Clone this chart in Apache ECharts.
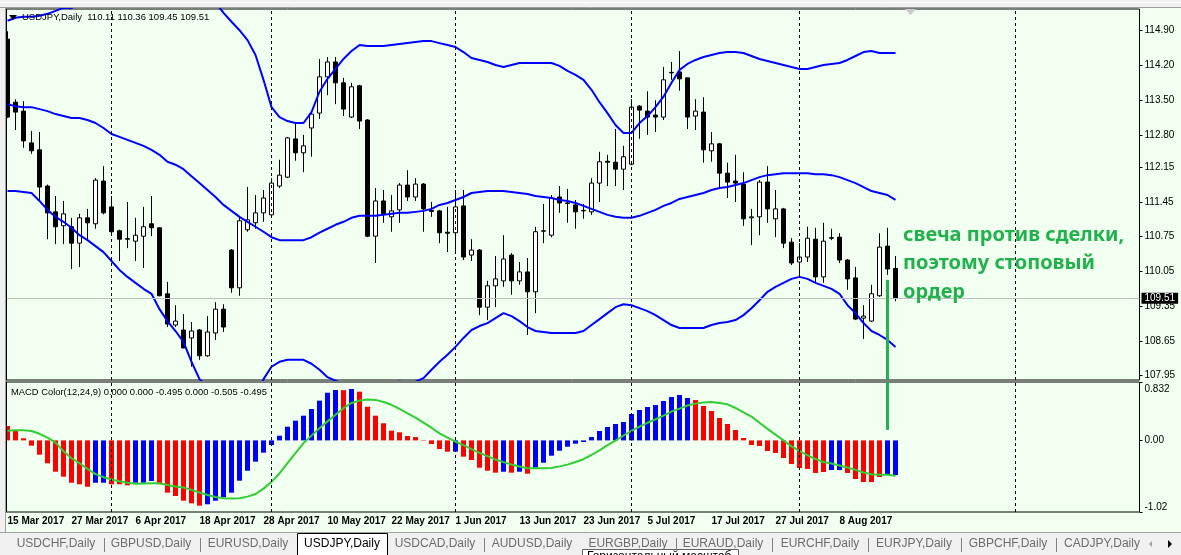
<!DOCTYPE html>
<html><head><meta charset="utf-8">
<script src="https://cdn.jsdelivr.net/npm/echarts@6/dist/echarts.min.js"></script>
<style>html,body{margin:0;padding:0;background:#F0FFF0;overflow:hidden}#c{width:1181px;height:555px}</style>
</head><body><div id="c"></div>
<script>
// ---------- DATA ----------
const symbolTitle = 'USDJPY,Daily';
const lastOHLC = '110.11 110.36 109.45 109.51';
const macdTitle = 'MACD Color(12,24,9) 0.000 0.000 -0.495 0.000 -0.505 -0.495';
const totalSlots = 142;           // bars + empty future space
const separatorIdx = [13, 33, 56, 78, 99, 126];
const bidPrice = 109.51;

const opens = [114.73,113.46,113.28,112.64,112.50,111.77,111.25,110.97,110.95,110.62,
111.13,111.01,111.87,111.35,110.87,110.71,110.66,110.76,111.01,110.93,
109.60,108.97,108.87,108.71,108.87,108.35,108.81,109.29,110.48,109.72,
110.89,111.03,111.23,111.19,111.77,111.95,112.72,112.44,112.94,113.24,
113.97,114.27,113.85,113.16,113.79,113.10,110.76,111.47,111.15,111.29,
111.79,111.55,111.81,111.28,111.27,110.84,110.83,111.37,110.38,110.48,
109.33,109.76,109.86,110.38,109.86,110.04,109.64,110.86,110.78,111.55,
111.43,111.39,111.27,111.25,111.83,112.27,112.25,112.11,112.21,113.38,
113.28,113.20,113.16,114.05,114.07,113.95,113.18,113.26,112.48,112.62,
112.03,111.87,111.81,111.13,111.15,111.85,111.11,111.31,110.64,110.24,
110.34,110.70,109.94,110.73,110.74,110.28,109.92,109.11,109.05,109.56,
110.56,110.11];
const closes = [113.16,113.26,112.68,112.48,111.75,111.23,110.95,111.21,110.62,111.13,
111.03,111.89,111.23,110.85,110.70,110.70,110.78,110.95,110.93,109.56,
108.99,109.05,108.51,108.85,108.35,108.83,109.29,108.93,109.72,111.07,
111.09,111.23,111.53,111.83,111.99,112.74,112.44,112.58,113.22,113.97,
114.27,113.85,113.32,113.77,113.08,110.76,111.47,111.21,111.27,111.79,
111.55,111.81,111.31,111.26,110.83,110.82,111.35,110.34,110.48,109.33,
109.76,109.90,110.30,109.86,110.04,109.64,110.85,110.87,111.53,111.43,
111.42,111.25,111.28,111.83,112.26,112.25,112.11,112.36,113.36,113.30,
113.16,113.16,113.91,114.06,113.93,113.16,113.28,112.50,112.62,112.03,
111.85,111.83,111.11,111.15,111.85,111.31,111.31,110.62,110.22,110.34,
110.72,109.94,110.66,110.72,110.28,109.90,109.09,109.15,109.60,110.54,
110.10,109.51];
const lows = [113.14,112.90,112.54,112.42,111.49,110.70,110.60,110.60,110.10,110.14,
110.68,110.91,111.20,110.80,110.26,110.52,110.26,110.12,110.76,109.55,
108.93,108.93,108.50,108.13,108.27,108.33,108.67,108.83,109.62,109.56,
110.85,110.91,111.05,111.17,111.73,111.93,112.28,112.05,112.36,113.12,
113.60,113.42,113.18,113.14,112.92,110.74,110.22,111.03,110.85,111.03,
111.47,111.47,110.85,111.15,110.62,110.44,110.44,110.28,110.26,109.17,
109.07,109.33,109.74,109.58,109.78,108.77,109.21,110.62,110.74,111.23,
111.03,110.91,111.11,111.19,111.45,111.77,111.77,111.69,112.19,112.72,
112.80,112.86,113.10,113.91,113.69,112.92,112.90,112.24,112.26,111.75,
111.53,111.45,110.97,110.58,110.78,111.03,110.74,110.52,110.18,109.94,
110.24,109.82,109.82,110.68,110.22,109.68,109.07,108.69,109.03,109.54,
109.98,109.45];
const highs = [114.89,113.52,113.48,112.88,112.86,111.80,111.57,111.47,111.13,111.21,
111.31,111.93,112.17,111.57,110.89,111.45,111.13,111.35,111.57,110.94,
109.84,109.37,109.19,109.03,108.89,109.15,109.43,109.39,110.50,111.15,
111.75,111.59,111.69,111.93,112.30,112.76,113.04,112.80,113.24,114.33,
114.37,114.37,113.95,113.85,113.81,113.12,111.73,111.69,111.59,111.83,
112.09,111.93,111.83,111.45,111.29,111.35,111.69,111.69,110.70,110.50,
109.86,110.36,110.78,110.42,110.24,110.32,110.95,111.41,111.59,111.77,
111.71,111.49,111.41,111.93,112.46,112.40,112.92,112.58,113.52,113.40,
113.68,113.50,114.17,114.27,114.49,113.95,113.52,113.56,112.86,112.64,
112.24,112.40,112.05,111.31,111.89,112.17,111.69,111.33,110.72,110.62,
110.95,110.93,111.03,110.91,110.82,110.30,110.14,109.37,109.78,110.82,
110.93,110.36];

const bbUpper = [115.10,115.16,115.18,115.18,115.20,115.24,115.30,115.36,115.35,115.50,
115.52,115.52,115.44,115.38,115.44,115.46,115.46,115.46,115.40,115.51,
115.47,115.55,115.59,115.71,115.78,115.65,115.47,115.26,115.08,114.91,
114.71,114.41,113.91,113.36,113.16,113.08,113.04,113.04,113.26,113.67,
113.93,114.13,114.33,114.49,114.61,114.59,114.59,114.59,114.61,114.63,
114.65,114.67,114.69,114.69,114.65,114.61,114.57,114.47,114.35,114.31,
114.27,114.21,114.17,114.21,114.25,114.25,114.25,114.25,114.25,114.19,
114.09,114.01,113.91,113.71,113.46,113.24,113.00,112.84,112.84,113.04,
113.18,113.36,113.57,113.85,114.11,114.23,114.31,114.37,114.41,114.45,
114.47,114.47,114.45,114.39,114.33,114.29,114.25,114.21,114.17,114.13,
114.13,114.17,114.21,114.23,114.25,114.31,114.39,114.47,114.49,114.45,
114.45,114.45];
const bbMiddle = [113.42,113.38,113.36,113.36,113.32,113.28,113.22,113.18,113.14,113.14,
113.10,113.04,112.94,112.82,112.76,112.70,112.64,112.58,112.50,112.40,
112.26,112.20,112.11,111.97,111.83,111.69,111.55,111.39,111.27,111.15,
111.05,110.95,110.85,110.74,110.68,110.68,110.68,110.68,110.74,110.83,
110.91,110.99,111.05,111.13,111.17,111.17,111.17,111.19,111.21,111.23,
111.23,111.25,111.27,111.31,111.39,111.43,111.49,111.55,111.63,111.65,
111.67,111.67,111.67,111.65,111.63,111.61,111.57,111.55,111.53,111.49,
111.47,111.43,111.37,111.31,111.25,111.19,111.15,111.13,111.13,111.17,
111.23,111.29,111.37,111.43,111.51,111.55,111.59,111.63,111.69,111.73,
111.75,111.79,111.83,111.89,111.95,111.99,112.01,112.03,112.03,112.03,
112.03,112.01,112.01,111.99,111.95,111.89,111.83,111.75,111.67,111.63,
111.59,111.49];
const bbLower = [111.67,111.67,111.65,111.63,111.47,111.29,111.15,111.05,110.93,110.78,
110.68,110.56,110.44,110.26,110.08,109.94,109.82,109.70,109.60,109.29,
109.05,108.85,108.63,108.23,107.88,107.73,107.63,107.52,107.46,107.39,
107.39,107.49,107.88,108.13,108.23,108.27,108.27,108.27,108.19,108.07,
107.92,107.85,107.77,107.77,107.73,107.75,107.75,107.79,107.81,107.83,
107.81,107.83,107.90,108.07,108.23,108.37,108.53,108.71,108.87,108.95,
109.01,109.11,109.21,109.15,109.05,108.93,108.85,108.83,108.81,108.81,
108.81,108.81,108.85,108.97,109.09,109.21,109.33,109.39,109.37,109.31,
109.25,109.17,109.07,108.97,108.91,108.91,108.91,108.91,108.97,109.01,
109.03,109.07,109.17,109.31,109.47,109.64,109.74,109.82,109.90,109.94,
109.90,109.82,109.76,109.70,109.60,109.37,109.21,109.01,108.85,108.77,
108.67,108.53];

const macdHist = [0.205,0.148,0.030,-0.075,-0.204,-0.326,-0.446,-0.517,-0.603,-0.625,
-0.660,-0.603,-0.603,-0.625,-0.625,-0.640,-0.603,-0.603,-0.578,-0.625,
-0.745,-0.792,-0.859,-0.896,-0.930,-0.910,-0.859,-0.811,-0.745,-0.574,
-0.432,-0.303,-0.175,-0.066,0.067,0.195,0.281,0.352,0.447,0.566,
0.679,0.718,0.716,0.732,0.694,0.480,0.352,0.244,0.138,0.115,
0.063,0.048,0.006,-0.051,-0.123,-0.161,-0.160,-0.232,-0.279,-0.389,
-0.432,-0.460,-0.446,-0.460,-0.446,-0.474,-0.389,-0.318,-0.218,-0.147,
-0.090,-0.047,-0.023,0.048,0.134,0.191,0.234,0.262,0.376,0.433,
0.476,0.504,0.561,0.618,0.647,0.604,0.575,0.490,0.419,0.319,
0.234,0.148,0.034,-0.066,-0.080,-0.151,-0.179,-0.251,-0.336,-0.393,
-0.407,-0.464,-0.450,-0.422,-0.423,-0.464,-0.550,-0.593,-0.594,-0.521,
-0.493,-0.495];
// r = falling (red), b = rising (blue), as coloured in the picture
const macdColorFlags = 'rrrrrrrrrrrbbrrrbbbrrrrrrbbbbbbbbbbbbbbbbbrbrrrrrrrrrrrrbrrrrrbrbrbbbbbbbbbbbbbbbbbbbbrrrrrrrrrrrrrrrrrbbrrrrrbbr';
const macdSignal = [0.138,0.145,0.144,0.134,0.094,0.040,-0.031,-0.155,-0.254,-0.325,
-0.405,-0.481,-0.524,-0.558,-0.581,-0.603,-0.617,-0.614,-0.611,-0.611,
-0.634,-0.658,-0.670,-0.705,-0.742,-0.778,-0.806,-0.823,-0.829,-0.825,
-0.801,-0.764,-0.687,-0.591,-0.471,-0.325,-0.181,-0.038,0.068,0.172,
0.271,0.365,0.459,0.534,0.567,0.584,0.577,0.547,0.507,0.449,
0.386,0.325,0.254,0.181,0.100,0.041,-0.019,-0.067,-0.124,-0.177,
-0.225,-0.273,-0.309,-0.343,-0.372,-0.397,-0.397,-0.397,-0.393,-0.370,
-0.345,-0.308,-0.268,-0.208,-0.141,-0.068,-0.003,0.070,0.137,0.197,
0.251,0.301,0.353,0.410,0.452,0.497,0.524,0.540,0.546,0.534,
0.514,0.462,0.400,0.339,0.252,0.164,0.083,0.001,-0.085,-0.150,
-0.212,-0.265,-0.308,-0.330,-0.358,-0.387,-0.420,-0.457,-0.481,-0.489,
-0.489,-0.505];

const priceTicks = [114.90,114.20,113.50,112.80,112.15,111.45,110.75,110.05,109.35,108.65,107.95];
const macdTicks = [0.832, 0, -1.02];
const macdTickText = ['0.832','0.00','-1.02'];
const noteLines = ['свеча против сделки,', 'поэтому стоповый', 'ордер'];
const stopBarIdx = 110, stopLinePriceTop = 109.88, stopLineMacdBottom = 0.15;
const tabNames = ['USDCHF,Daily','GBPUSD,Daily','EURUSD,Daily','USDJPY,Daily','USDCAD,Daily','AUDUSD,Daily','EURGBP,Daily','EURAUD,Daily','EURCHF,Daily','EURJPY,Daily','GBPCHF,Daily','CADJPY,Daily'];
const activeTab = 'USDJPY,Daily';
const tooltipText = 'Горизонтальный масштаб';

// ---------- categories (weekday dates) ----------
const monthNames = ['Jan','Feb','Mar','Apr','May','Jun','Jul','Aug','Sep','Oct','Nov','Dec'];
const cats = [];
(function(){ let t = Date.UTC(2017,2,15); while (cats.length < totalSlots) { const d = new Date(t); const wd = d.getUTCDay(); if (wd !== 0 && wd !== 6) cats.push(d.getUTCDate()+' '+monthNames[d.getUTCMonth()]+' '+d.getUTCFullYear()); t += 86400000; } })();
const nBars = opens.length;

// ---------- layout ----------
const GL = 3.5, GW = 8 * totalSlots;       // 8px per bar
const MAIN_TOP = 9, MAIN_H = 371;
const SUB_TOP = 382, SUB_H = 130;
const PMAX = 115.337, PMIN = 107.863;
const FONT = 'Liberation Sans';
const BG = '#F0FFF0';

const ohlc = opens.map((o,i)=>[o, closes[i], lows[i], highs[i]]);
const histData = macdHist.map((v,i)=>({value:v, itemStyle:{color: macdColorFlags[i]==='b' ? '#0000FF' : '#FF0000'}}));

const sepLines = separatorIdx.map(i=>({xAxis: cats[i]}));
const sepStyle = {color:'#000', type:[3,3], width:1};

const tabCenters = [56,151,248,342,435,532,628,723,820,914,1008,1102];
const tabSeps = [104,200,484,676,772,868,961,1056];

const graphics = [];
// window chrome
graphics.push({type:'rect', z:100, silent:true, shape:{x:0,y:0,width:1181,height:8}, style:{fill:'#F0F0F0'}});
graphics.push({type:'line', z:101, silent:true, shape:{x1:0,y1:2.5,x2:1181,y2:2.5}, style:{stroke:'#FFFFFF',lineWidth:1}});
graphics.push({type:'line', z:101, silent:true, shape:{x1:0,y1:7.5,x2:1181,y2:7.5}, style:{stroke:'#A0A0A0',lineWidth:1}});
graphics.push({type:'rect', z:100, silent:true, shape:{x:0,y:0,width:6,height:533}, style:{fill:'#F0F0F0'}});
graphics.push({type:'line', z:101, silent:true, shape:{x1:5.5,y1:8,x2:5.5,y2:533}, style:{stroke:'#A0A0A0',lineWidth:1}});
graphics.push({type:'line', z:101, silent:true, shape:{x1:6.5,y1:9,x2:6.5,y2:380}, style:{stroke:'#000',lineWidth:1}});
graphics.push({type:'line', z:101, silent:true, shape:{x1:6.5,y1:382,x2:6.5,y2:512}, style:{stroke:'#000',lineWidth:1}});
// chart-shift marker
graphics.push({type:'polygon', z:101, silent:true, shape:{points:[[905,9],[916,9],[910.5,15]]}, style:{fill:'#C8C8C8'}});
// header
graphics.push({type:'polygon', z:101, silent:true, shape:{points:[[9,15],[17,15],[13,20]]}, style:{fill:'#000'}});
graphics.push({type:'text', z:102, silent:true, x:22, y:17, style:{text:symbolTitle+'  '+lastOHLC, font:'9.5px '+FONT, fill:'#000', verticalAlign:'middle'}});
graphics.push({type:'text', z:102, silent:true, x:11, y:392, style:{text:macdTitle, font:'9.4px '+FONT, fill:'#000', verticalAlign:'middle'}});
// annotation
noteLines.forEach((t,k)=>graphics.push({type:'text', z:102, silent:true, x:903, y:235+k*28.5, style:{text:t, font:'bold 20px "Noto Sans"', fill:'#22B14C', verticalAlign:'middle'}}));
// tab bar
graphics.push({type:'rect', z:100, silent:true, shape:{x:0,y:533,width:1181,height:22}, style:{fill:'#F0F0F0'}});
graphics.push({type:'line', z:101, silent:true, shape:{x1:0,y1:532.5,x2:1181,y2:532.5}, style:{stroke:'#A0A0A0',lineWidth:1}});
tabSeps.forEach(x=>graphics.push({type:'line', z:101, silent:true, shape:{x1:x+0.5,y1:538,x2:x+0.5,y2:552}, style:{stroke:'#808080',lineWidth:1}}));
graphics.push({type:'rect', z:101, silent:true, shape:{x:297.5,y:533.5,width:90,height:22}, style:{fill:'#FFFFFF', stroke:'#000', lineWidth:1}});
tabNames.forEach((t,k)=>graphics.push({type:'text', z:102, silent:true, x:tabCenters[k], y:544, style:{text:t, font:'12px '+FONT, fill: t===activeTab ? '#000' : '#6D6D6D', align:'center', verticalAlign:'middle'}}));
graphics.push({type:'polygon', z:102, silent:true, shape:{points:[[1152,541],[1152,547],[1149,544]]}, style:{fill:'#A0A0A0'}});
graphics.push({type:'polygon', z:102, silent:true, shape:{points:[[1168,540],[1168,548],[1172,544]]}, style:{fill:'#000'}});
// tooltip partially visible
graphics.push({type:'rect', z:103, silent:true, shape:{x:582.5,y:549.5,width:156,height:14}, style:{fill:'#FFFFFF', stroke:'#646464', lineWidth:1}});
graphics.push({type:'text', z:104, silent:true, x:587, y:551, style:{text:tooltipText, font:'12px '+FONT, fill:'#000', verticalAlign:'top'}});

const option = {
  animation:false,
  backgroundColor: BG,
  grid:[
    {left:GL, top:MAIN_TOP, width:GW, height:MAIN_H, show:true, backgroundColor:BG, borderColor:'#000', borderWidth:1},
    {left:GL, top:SUB_TOP, width:GW, height:SUB_H, show:true, backgroundColor:BG, borderColor:'#000', borderWidth:1}
  ],
  xAxis:[
    {type:'category', gridIndex:0, data:cats, boundaryGap:true, axisLine:{show:false}, axisTick:{show:false}, axisLabel:{show:false}, splitLine:{show:false}},
    {type:'category', gridIndex:1, data:cats, boundaryGap:true, axisLine:{show:false},
      axisTick:{show:true, inside:true, length:3, alignWithLabel:true, interval:(i)=>separatorIdx.indexOf(i)>=0, lineStyle:{color:'#000'}},
      axisLabel:{show:true, interval:(i)=>i%8===0 && i<nBars, align:'left', margin:4, color:'#000', fontFamily:FONT, fontSize:10, fontWeight:'bold'},
      splitLine:{show:false}}
  ],
  yAxis:[
    {type:'value', gridIndex:0, position:'right', min:PMIN, max:PMAX, axisLine:{show:false},
      axisTick:{show:true, length:3, customValues:priceTicks, lineStyle:{color:'#000'}},
      axisLabel:{show:true, customValues:priceTicks, margin:5, color:'#000', fontFamily:FONT, fontSize:10, formatter:(v)=>v.toFixed(2)},
      splitLine:{show:false}},
    {type:'value', gridIndex:1, position:'right', min:-1.02, max:0.832, axisLine:{show:false},
      axisTick:{show:true, length:3, customValues:macdTicks, lineStyle:{color:'#000'}},
      axisLabel:{show:true, customValues:macdTicks, margin:5, color:'#000', fontFamily:FONT, fontSize:10,
        formatter:(v)=>{ const k = macdTicks.findIndex(t=>Math.abs(t-v)<1e-6); const s = k>=0 ? macdTickText[k] : ''; return k===0 ? '{t|'+s+'}' : (k===2 ? '{b|'+s+'}' : s); },
        rich:{t:{padding:[14,0,0,0], fontFamily:FONT, fontSize:10, color:'#000'}, b:{padding:[0,0,10,0], fontFamily:FONT, fontSize:10, color:'#000'}}},
      splitLine:{show:false}}
  ],
  series:[
    {type:'candlestick', name:'USDJPY', xAxisIndex:0, yAxisIndex:0, data:ohlc, barWidth:4,
      itemStyle:{color:'#FFFFFF', color0:'#000000', borderColor:'#000000', borderColor0:'#000000', borderWidth:1},
      markLine:{silent:true, symbol:['none','none'], label:{show:false}, lineStyle:sepStyle,
        data: sepLines.concat([
          {yAxis:bidPrice, lineStyle:{color:'#C0C0C0', type:'solid', width:1},
            label:{show:true, position:'end', distance:2, formatter:bidPrice.toFixed(2), color:'#FFFFFF', backgroundColor:'#000000', padding:[1,3,0,3], fontFamily:FONT, fontSize:10}},
          [{coord:[cats[stopBarIdx], stopLinePriceTop], lineStyle:{color:'#22B14C', type:'solid', width:3}}, {coord:[cats[stopBarIdx], PMIN]}]
        ])}},
    {type:'line', name:'BB upper', xAxisIndex:0, yAxisIndex:0, data:bbUpper, showSymbol:false, symbol:'none', lineStyle:{color:'#0000FF', width:2}, z:3},
    {type:'line', name:'BB middle', xAxisIndex:0, yAxisIndex:0, data:bbMiddle, showSymbol:false, symbol:'none', lineStyle:{color:'#0000FF', width:2}, z:3},
    {type:'line', name:'BB lower', xAxisIndex:0, yAxisIndex:0, data:bbLower, showSymbol:false, symbol:'none', lineStyle:{color:'#0000FF', width:2}, z:3},
    {type:'bar', name:'MACD', xAxisIndex:1, yAxisIndex:1, data:histData, barWidth:5,
      markLine:{silent:true, symbol:['none','none'], label:{show:false}, lineStyle:sepStyle,
        data: sepLines.concat([
          [{coord:[cats[stopBarIdx], 0.832], lineStyle:{color:'#22B14C', type:'solid', width:3}}, {coord:[cats[stopBarIdx], stopLineMacdBottom]}]
        ])}},
    {type:'line', name:'Signal', xAxisIndex:1, yAxisIndex:1, data:macdSignal, showSymbol:false, symbol:'none', lineStyle:{color:'#32CD32', width:2}, z:3}
  ],
  graphic: graphics
};
const chart = echarts.init(document.getElementById('c'), null, {renderer:'canvas'});
chart.setOption(option);
</script>
</body></html>
